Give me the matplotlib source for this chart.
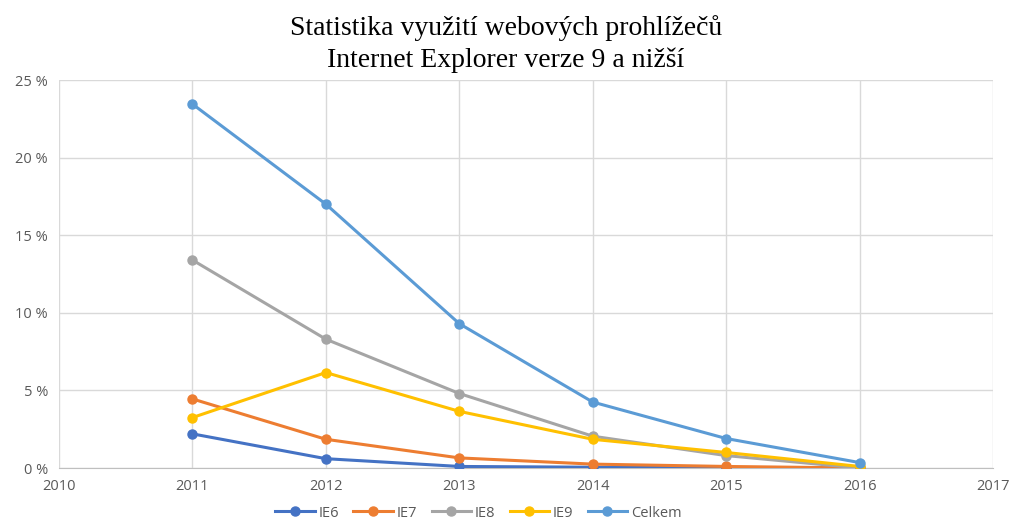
import numpy as np
import matplotlib.pyplot as plt
from matplotlib.ticker import FuncFormatter

roky = [2011, 2012, 2013, 2014, 2015, 2016]
ie6 = [2.2, 0.6, 0.1, 0.05, 0.02, 0.0]
ie7 = [4.45, 1.85, 0.65, 0.25, 0.1, 0.0]
ie8 = [13.4, 8.3, 4.8, 2.05, 0.8, 0.0]
ie9 = [3.25, 6.15, 3.65, 1.85, 1.0, 0.1]
celkem = [23.45, 17.0, 9.3, 4.25, 1.9, 0.35]

nazvy = ['IE6', 'IE7', 'IE8', 'IE9', 'Celkem']
barvy = ['#4472C4', '#ED7D31', '#A5A5A5', '#FFC000', '#5B9BD5']

fig = plt.figure(figsize=(10.12, 5.19), dpi=100)
ax = fig.add_axes([59/1012, 1-468/519, (993-59)/1012, (468-80)/519])

for data, nazev, barva in zip([ie6, ie7, ie8, ie9, celkem], nazvy, barvy):
    ax.plot(roky, data, color=barva, lw=2.2, marker='o', ms=6.5, label=nazev, zorder=3)

ax.set_xlim(2010, 2017)
ax.set_ylim(0, 25)
ax.set_xticks(range(2010, 2018))
ax.set_yticks([0, 5, 10, 15, 20, 25])
ax.yaxis.set_major_formatter(FuncFormatter(lambda v, p: '%d %%' % v))
ax.grid(True, color='#d9d9d9', lw=1)
ax.set_axisbelow(True)
for s in ['top', 'right', 'left']:
    ax.spines[s].set_visible(False)
ax.spines['bottom'].set_color('#bfbfbf')
ax.tick_params(length=0, labelsize=10.5, colors='#595959', pad=8)
for lab in ax.get_xticklabels() + ax.get_yticklabels():
    lab.set_family('Open Sans')

fig.text(0.5, 1-28/519, 'Statistika využití webových prohlížečů',
         family='Liberation Serif', fontsize=20, ha='center', va='center')
fig.text(0.5, 1-60/519, 'Internet Explorer verze 9 a nižší',
         family='Liberation Serif', fontsize=20, ha='center', va='center')

ax.legend(loc='center', bbox_to_anchor=(0.449, -0.116), ncol=5, frameon=False,
          prop={'family': 'Open Sans', 'size': 10.5}, labelcolor='#595959',
          handlelength=2.7, columnspacing=1.0, handletextpad=0.25, borderpad=0)

plt.savefig('out.png', dpi=100)
